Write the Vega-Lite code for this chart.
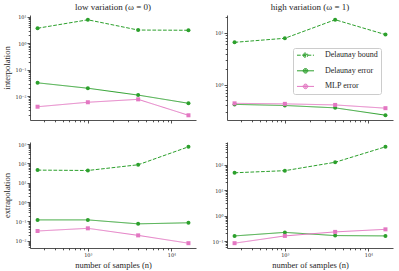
{
  "$schema": "https://vega.github.io/schema/vega-lite/v6.json",
  "background": "white",
  "padding": {"left": 2, "top": 2, "right": 2, "bottom": 2},
  "datasets": {
    "d": [
      {"p":"TL","n":250,"s":"Delaunay bound","v":3.7},
      {"p":"TL","n":1000,"s":"Delaunay bound","v":7.7},
      {"p":"TL","n":4000,"s":"Delaunay bound","v":3.16},
      {"p":"TL","n":16000,"s":"Delaunay bound","v":3.1},
      {"p":"TL","n":250,"s":"Delaunay error","v":0.032},
      {"p":"TL","n":1000,"s":"Delaunay error","v":0.020},
      {"p":"TL","n":4000,"s":"Delaunay error","v":0.011},
      {"p":"TL","n":16000,"s":"Delaunay error","v":0.0054},
      {"p":"TL","n":250,"s":"MLP error","v":0.004},
      {"p":"TL","n":1000,"s":"MLP error","v":0.0059},
      {"p":"TL","n":4000,"s":"MLP error","v":0.0076},
      {"p":"TL","n":16000,"s":"MLP error","v":0.0019},
      {"p":"TR","n":250,"s":"Delaunay bound","v":6.6},
      {"p":"TR","n":1000,"s":"Delaunay bound","v":7.9},
      {"p":"TR","n":4000,"s":"Delaunay bound","v":18},
      {"p":"TR","n":16000,"s":"Delaunay bound","v":9.3},
      {"p":"TR","n":250,"s":"Delaunay error","v":0.42},
      {"p":"TR","n":1000,"s":"Delaunay error","v":0.40},
      {"p":"TR","n":4000,"s":"Delaunay error","v":0.36},
      {"p":"TR","n":16000,"s":"Delaunay error","v":0.26},
      {"p":"TR","n":250,"s":"MLP error","v":0.44},
      {"p":"TR","n":1000,"s":"MLP error","v":0.43},
      {"p":"TR","n":4000,"s":"MLP error","v":0.41},
      {"p":"TR","n":16000,"s":"MLP error","v":0.355},
      {"p":"BL","n":250,"s":"Delaunay bound","v":45},
      {"p":"BL","n":1000,"s":"Delaunay bound","v":43},
      {"p":"BL","n":4000,"s":"Delaunay bound","v":85},
      {"p":"BL","n":16000,"s":"Delaunay bound","v":720},
      {"p":"BL","n":250,"s":"Delaunay error","v":0.12},
      {"p":"BL","n":1000,"s":"Delaunay error","v":0.12},
      {"p":"BL","n":4000,"s":"Delaunay error","v":0.075},
      {"p":"BL","n":16000,"s":"Delaunay error","v":0.085},
      {"p":"BL","n":250,"s":"MLP error","v":0.032},
      {"p":"BL","n":1000,"s":"MLP error","v":0.044},
      {"p":"BL","n":4000,"s":"MLP error","v":0.019},
      {"p":"BL","n":16000,"s":"MLP error","v":0.0075},
      {"p":"BR","n":250,"s":"Delaunay bound","v":48},
      {"p":"BR","n":1000,"s":"Delaunay bound","v":58},
      {"p":"BR","n":4000,"s":"Delaunay bound","v":124},
      {"p":"BR","n":16000,"s":"Delaunay bound","v":500},
      {"p":"BR","n":250,"s":"Delaunay error","v":0.16},
      {"p":"BR","n":1000,"s":"Delaunay error","v":0.22},
      {"p":"BR","n":4000,"s":"Delaunay error","v":0.165},
      {"p":"BR","n":16000,"s":"Delaunay error","v":0.16},
      {"p":"BR","n":250,"s":"MLP error","v":0.083},
      {"p":"BR","n":1000,"s":"MLP error","v":0.16},
      {"p":"BR","n":4000,"s":"MLP error","v":0.23},
      {"p":"BR","n":16000,"s":"MLP error","v":0.29}
    ]
  },
  "data": {"name": "d"},
  "columns": 2,
  "spacing": {"row": 18, "column": 15},
  "resolve": {"scale": {"color": "independent", "x": "independent", "y": "independent", "strokeDash": "independent"}, "legend": {"color": "independent", "strokeDash": "independent"}},
  "concat": [
    {
      "width": 166, "height": 105,
      "title": {"text": "low variation (ω = 0)"},
      "transform": [{"filter": "datum.p === 'TL'"}],
      "resolve": {"axis": {"x": "independent", "y": "independent"}},
      "layer": [
        {
          "mark": {"type": "line", "strokeWidth": 1},
          "encoding": {
            "x": {"field": "n", "type": "quantitative", "scale": {"type": "log", "domain": [203, 19700], "nice": false}, "axis": {"values": [1000, 10000], "labels": false, "title": null}},
            "y": {"field": "v", "type": "quantitative", "scale": {"type": "log", "domain": [0.00126, 11.7], "nice": false}, "axis": {"values": [0.01, 0.1, 1, 10], "title": "interpolation", "labelExpr": "'10' + ['⁻³','⁻²','⁻¹','⁰','¹','²','³','⁴'][round(log(datum.value)/LN10)+3]"}},
            "color": {"field": "s", "type": "nominal", "scale": {"domain": ["Delaunay bound", "Delaunay error", "MLP error"], "range": ["#2ca02c", "#2ca02c", "#e377c2"]}, "legend": null},
            "strokeDash": {"field": "s", "type": "nominal", "scale": {"domain": ["Delaunay bound", "Delaunay error", "MLP error"], "range": [[3.7, 1.6], [1, 0], [1, 0]]}, "legend": null}
          }
        },
        {
          "transform": [{"filter": "datum.s !== 'MLP error'"}],
          "mark": {"type": "point", "shape": "circle", "filled": true, "size": 16, "opacity": 1, "color": "#2ca02c"},
          "encoding": {
            "x": {"field": "n", "type": "quantitative", "scale": {"type": "log", "domain": [203, 19700], "nice": false}, "axis": {"orient": "bottom", "values": [300,400,500,600,700,800,900,2000,3000,4000,5000,6000,7000,8000,9000], "labels": false, "domain": false, "tickSize": 1.8, "title": null}},
            "y": {"field": "v", "type": "quantitative", "scale": {"type": "log", "domain": [0.00126, 11.7], "nice": false}, "axis": {"orient": "left", "values": [0.002,0.003,0.004,0.005,0.006,0.007,0.008,0.009,0.02,0.03,0.04,0.05,0.06,0.07,0.08,0.09,0.2,0.3,0.4,0.5,0.6,0.7,0.8,0.9,2,3,4,5,6,7,8,9], "labels": false, "domain": false, "tickSize": 1.8, "title": null}}
          }
        },
        {
          "transform": [{"filter": "datum.s === 'MLP error'"}],
          "mark": {"type": "point", "shape": "square", "filled": true, "size": 16, "opacity": 1, "color": "#e377c2"},
          "encoding": {
            "x": {"field": "n", "type": "quantitative", "scale": {"type": "log", "domain": [203, 19700], "nice": false}, "axis": null},
            "y": {"field": "v", "type": "quantitative", "scale": {"type": "log", "domain": [0.00126, 11.7], "nice": false}, "axis": null}
          }
        }
      ]
    },
    {
      "width": 166, "height": 105,
      "title": {"text": "high variation (ω = 1)"},
      "transform": [{"filter": "datum.p === 'TR'"}],
      "resolve": {"axis": {"x": "independent", "y": "independent"}},
      "layer": [
        {
          "mark": {"type": "line", "strokeWidth": 1},
          "encoding": {
            "x": {"field": "n", "type": "quantitative", "scale": {"type": "log", "domain": [203, 19700], "nice": false}, "axis": {"values": [1000, 10000], "labels": false, "title": null}},
            "y": {"field": "v", "type": "quantitative", "scale": {"type": "log", "domain": [0.21, 22.2], "nice": false}, "axis": {"values": [1, 10], "title": null, "labelExpr": "'10' + ['⁻³','⁻²','⁻¹','⁰','¹','²','³','⁴'][round(log(datum.value)/LN10)+3]"}},
            "color": {"field": "s", "type": "nominal", "title": null, "scale": {"domain": ["Delaunay bound", "Delaunay error", "MLP error"], "range": ["#2ca02c", "#2ca02c", "#e377c2"]},
              "legend": {
                "orient": "none", "legendX": 66, "legendY": 33, "title": null,
                "padding": 3.2, "symbolSize": 36, "labelOffset": 20.8, "rowPadding": 5.6,
                "labelFont": "Liberation Serif", "labelFontSize": 8, "labelColor": "#262626",
                "strokeColor": "#cccccc", "cornerRadius": 2, "fillColor": "white",
                "symbolStrokeWidth": 1, "symbolOpacity": 1,
                "symbolType": "M-1.067,0H4.6M1,0A0.767,0.767 0 1,1 2.534,0A0.767,0.767 0 1,1 1,0M1.317,0A0.45,0.45 0 1,1 2.217,0A0.45,0.45 0 1,1 1.317,0M1.617,0A0.15,0.15 0 1,1 1.917,0A0.15,0.15 0 1,1 1.617,0"
              }
            },
            "strokeDash": {"field": "s", "type": "nominal", "title": null, "scale": {"domain": ["Delaunay bound", "Delaunay error", "MLP error"], "range": [[3.7, 1.6], [1, 0], [1, 0]]},
              "legend": {
                "orient": "none", "legendX": 66, "legendY": 33, "title": null,
                "padding": 3.2, "symbolSize": 36, "labelOffset": 20.8, "rowPadding": 5.6,
                "labelFont": "Liberation Serif", "labelFontSize": 8, "labelColor": "#262626",
                "strokeColor": "#cccccc", "cornerRadius": 2, "fillColor": "white",
                "symbolStrokeWidth": 1, "symbolOpacity": 1,
                "symbolType": "M-1.067,0H4.6M1,0A0.767,0.767 0 1,1 2.534,0A0.767,0.767 0 1,1 1,0M1.317,0A0.45,0.45 0 1,1 2.217,0A0.45,0.45 0 1,1 1.317,0M1.617,0A0.15,0.15 0 1,1 1.917,0A0.15,0.15 0 1,1 1.617,0"
              }
            }
          }
        },
        {
          "transform": [{"filter": "datum.s !== 'MLP error'"}],
          "mark": {"type": "point", "shape": "circle", "filled": true, "size": 16, "opacity": 1, "color": "#2ca02c"},
          "encoding": {
            "x": {"field": "n", "type": "quantitative", "scale": {"type": "log", "domain": [203, 19700], "nice": false}, "axis": {"orient": "bottom", "values": [300,400,500,600,700,800,900,2000,3000,4000,5000,6000,7000,8000,9000], "labels": false, "domain": false, "tickSize": 1.8, "title": null}},
            "y": {"field": "v", "type": "quantitative", "scale": {"type": "log", "domain": [0.21, 22.2], "nice": false}, "axis": {"orient": "left", "values": [0.3,0.4,0.5,0.6,0.7,0.8,0.9,2,3,4,5,6,7,8,9,20], "labels": false, "domain": false, "tickSize": 1.8, "title": null}}
          }
        },
        {
          "transform": [{"filter": "datum.s === 'MLP error'"}],
          "mark": {"type": "point", "shape": "square", "filled": true, "size": 16, "opacity": 1, "color": "#e377c2"},
          "encoding": {
            "x": {"field": "n", "type": "quantitative", "scale": {"type": "log", "domain": [203, 19700], "nice": false}, "axis": null},
            "y": {"field": "v", "type": "quantitative", "scale": {"type": "log", "domain": [0.21, 22.2], "nice": false}, "axis": null}
          }
        }
      ]
    },
    {
      "width": 166, "height": 106,
      "transform": [{"filter": "datum.p === 'BL'"}],
      "resolve": {"axis": {"x": "independent", "y": "independent"}},
      "layer": [
        {
          "mark": {"type": "line", "strokeWidth": 1},
          "encoding": {
            "x": {"field": "n", "type": "quantitative", "scale": {"type": "log", "domain": [203, 19700], "nice": false}, "axis": {"values": [1000, 10000], "title": "number of samples (n)", "labelExpr": "'10' + ['⁻³','⁻²','⁻¹','⁰','¹','²','³','⁴'][round(log(datum.value)/LN10)+3]"}},
            "y": {"field": "v", "type": "quantitative", "scale": {"type": "log", "domain": [0.00423, 1277], "nice": false}, "axis": {"values": [0.01, 0.1, 1, 10, 100, 1000], "title": "extrapolation", "labelExpr": "'10' + ['⁻³','⁻²','⁻¹','⁰','¹','²','³','⁴'][round(log(datum.value)/LN10)+3]"}},
            "color": {"field": "s", "type": "nominal", "scale": {"domain": ["Delaunay bound", "Delaunay error", "MLP error"], "range": ["#2ca02c", "#2ca02c", "#e377c2"]}, "legend": null},
            "strokeDash": {"field": "s", "type": "nominal", "scale": {"domain": ["Delaunay bound", "Delaunay error", "MLP error"], "range": [[3.7, 1.6], [1, 0], [1, 0]]}, "legend": null}
          }
        },
        {
          "transform": [{"filter": "datum.s !== 'MLP error'"}],
          "mark": {"type": "point", "shape": "circle", "filled": true, "size": 16, "opacity": 1, "color": "#2ca02c"},
          "encoding": {
            "x": {"field": "n", "type": "quantitative", "scale": {"type": "log", "domain": [203, 19700], "nice": false}, "axis": {"orient": "bottom", "values": [300,400,500,600,700,800,900,2000,3000,4000,5000,6000,7000,8000,9000], "labels": false, "domain": false, "tickSize": 1.8, "title": null}},
            "y": {"field": "v", "type": "quantitative", "scale": {"type": "log", "domain": [0.00423, 1277], "nice": false}, "axis": {"orient": "left", "values": [0.005,0.006,0.007,0.008,0.009,0.02,0.03,0.04,0.05,0.06,0.07,0.08,0.09,0.2,0.3,0.4,0.5,0.6,0.7,0.8,0.9,2,3,4,5,6,7,8,9,20,30,40,50,60,70,80,90,200,300,400,500,600,700,800,900], "labels": false, "domain": false, "tickSize": 1.8, "title": null}}
          }
        },
        {
          "transform": [{"filter": "datum.s === 'MLP error'"}],
          "mark": {"type": "point", "shape": "square", "filled": true, "size": 16, "opacity": 1, "color": "#e377c2"},
          "encoding": {
            "x": {"field": "n", "type": "quantitative", "scale": {"type": "log", "domain": [203, 19700], "nice": false}, "axis": null},
            "y": {"field": "v", "type": "quantitative", "scale": {"type": "log", "domain": [0.00423, 1277], "nice": false}, "axis": null}
          }
        }
      ]
    },
    {
      "width": 166, "height": 106,
      "transform": [{"filter": "datum.p === 'BR'"}],
      "resolve": {"axis": {"x": "independent", "y": "independent"}},
      "layer": [
        {
          "mark": {"type": "line", "strokeWidth": 1},
          "encoding": {
            "x": {"field": "n", "type": "quantitative", "scale": {"type": "log", "domain": [203, 19700], "nice": false}, "axis": {"values": [1000, 10000], "title": "number of samples (n)", "labelExpr": "'10' + ['⁻³','⁻²','⁻¹','⁰','¹','²','³','⁴'][round(log(datum.value)/LN10)+3]"}},
            "y": {"field": "v", "type": "quantitative", "scale": {"type": "log", "domain": [0.0537, 774], "nice": false}, "axis": {"values": [0.1, 1, 10, 100], "title": null, "labelExpr": "'10' + ['⁻³','⁻²','⁻¹','⁰','¹','²','³','⁴'][round(log(datum.value)/LN10)+3]"}},
            "color": {"field": "s", "type": "nominal", "scale": {"domain": ["Delaunay bound", "Delaunay error", "MLP error"], "range": ["#2ca02c", "#2ca02c", "#e377c2"]}, "legend": null},
            "strokeDash": {"field": "s", "type": "nominal", "scale": {"domain": ["Delaunay bound", "Delaunay error", "MLP error"], "range": [[3.7, 1.6], [1, 0], [1, 0]]}, "legend": null}
          }
        },
        {
          "transform": [{"filter": "datum.s !== 'MLP error'"}],
          "mark": {"type": "point", "shape": "circle", "filled": true, "size": 16, "opacity": 1, "color": "#2ca02c"},
          "encoding": {
            "x": {"field": "n", "type": "quantitative", "scale": {"type": "log", "domain": [203, 19700], "nice": false}, "axis": {"orient": "bottom", "values": [300,400,500,600,700,800,900,2000,3000,4000,5000,6000,7000,8000,9000], "labels": false, "domain": false, "tickSize": 1.8, "title": null}},
            "y": {"field": "v", "type": "quantitative", "scale": {"type": "log", "domain": [0.0537, 774], "nice": false}, "axis": {"orient": "left", "values": [0.06,0.07,0.08,0.09,0.2,0.3,0.4,0.5,0.6,0.7,0.8,0.9,2,3,4,5,6,7,8,9,20,30,40,50,60,70,80,90,200,300,400,500,600,700], "labels": false, "domain": false, "tickSize": 1.8, "title": null}}
          }
        },
        {
          "transform": [{"filter": "datum.s === 'MLP error'"}],
          "mark": {"type": "point", "shape": "square", "filled": true, "size": 16, "opacity": 1, "color": "#e377c2"},
          "encoding": {
            "x": {"field": "n", "type": "quantitative", "scale": {"type": "log", "domain": [203, 19700], "nice": false}, "axis": null},
            "y": {"field": "v", "type": "quantitative", "scale": {"type": "log", "domain": [0.0537, 774], "nice": false}, "axis": null}
          }
        }
      ]
    }
  ],
  "config": {
    "view": {"stroke": null},
    "font": "Liberation Serif",
    "title": {"font": "Liberation Serif", "fontSize": 9, "fontWeight": "normal", "color": "#262626", "offset": 3},
    "axis": {
      "grid": false, "domainColor": "#262626", "tickColor": "#262626", "domainWidth": 0.8, "tickWidth": 0.8,
      "tickSize": 3, "labelPadding": 1, "labelFont": "DejaVu Serif", "labelFontSize": 5, "labelColor": "#262626",
      "titleFont": "Liberation Serif", "titleFontSize": 8.5, "titleFontWeight": "normal", "titleColor": "#262626", "titlePadding": 3
    }
  }
}
